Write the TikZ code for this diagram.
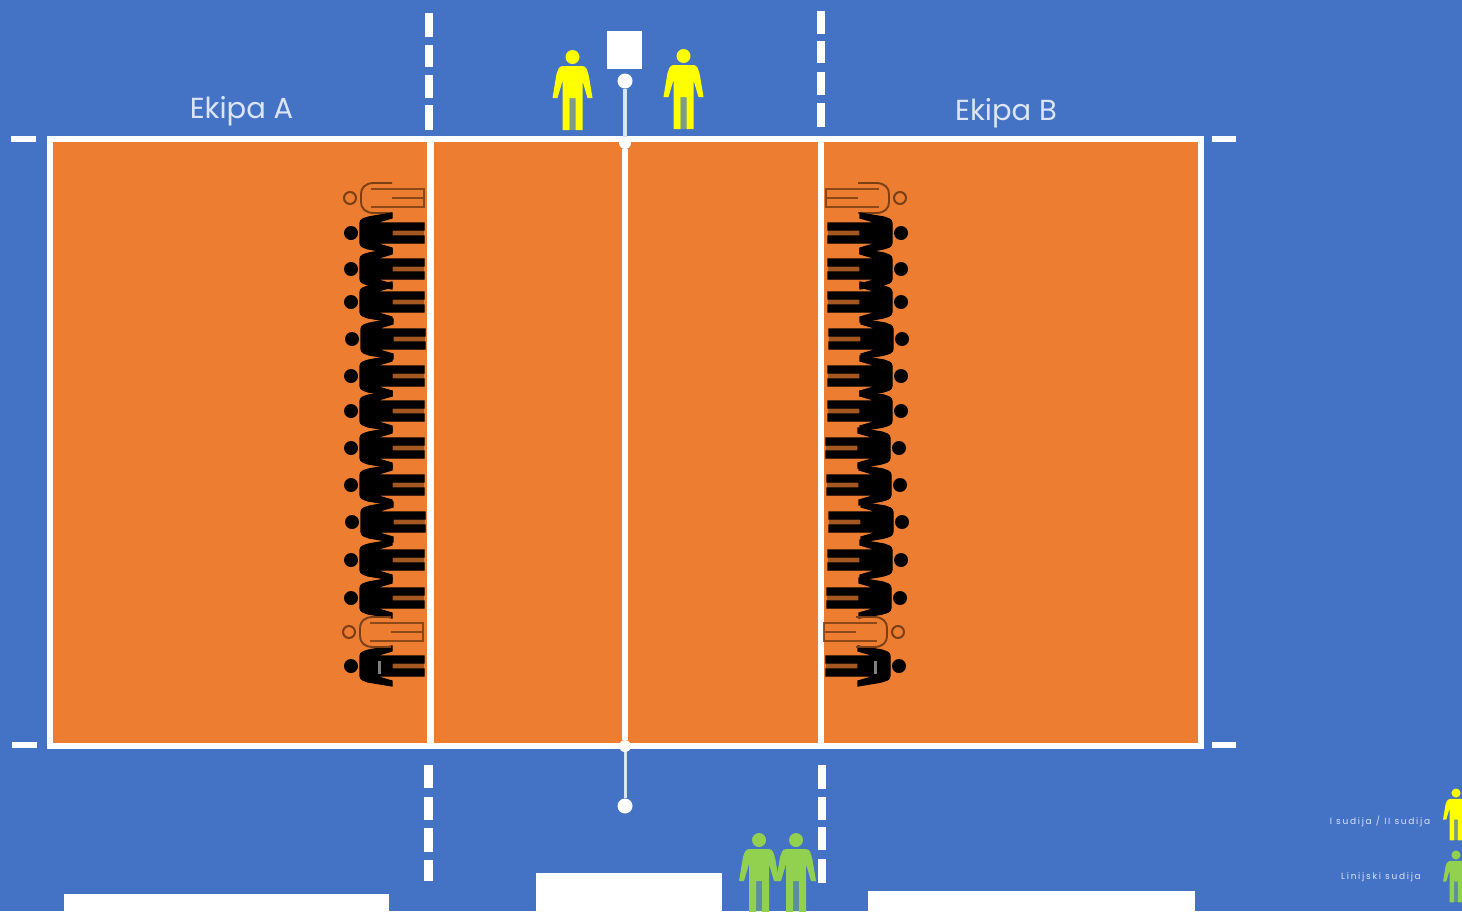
\documentclass[tikz,border=0pt]{standalone}
\usepackage{fontspec}
\setmainfont{Poppins}
\definecolor{bluebg}{HTML}{4472C4}
\definecolor{court}{HTML}{ED7D31}
\definecolor{refy}{HTML}{FFFF00}
\definecolor{refg}{HTML}{92D050}
\definecolor{brownline}{HTML}{7A3F14}
\definecolor{lbl}{HTML}{DCE5F5}
\tikzset{
  figure/.pic={
    \fill[pic actions,draw=none] (0,0) circle (7);
    \fill[pic actions] [rounded corners=3] (-13,9) -- (13,9) -- (16,17) [sharp corners] -- (20,41) -- (15,41) -- (10,24) -- (10,73) -- (3,73) -- (3,41) -- (-3,41) -- (-3,73) -- (-10,73) -- (-10,24) -- (-15,41) -- (-20,41) -- (-16,17) [rounded corners=3] -- cycle;
    \fill[pic actions,draw=none,opacity=.3] (-3,41) rectangle (3,73);
  },
  hollow/.pic={
    \draw[brownline,line width=2] (0,0) circle (6);
    \draw[brownline,line width=1.9] (15,42) -- (15,24) .. controls (15,15) and (10,11) .. (4,11) -- (-4,11) .. controls (-10,11) and (-15,15) .. (-15,24) -- (-15,42);
    \draw[brownline,line width=2.2,opacity=.85] (-9,21) -- (-9,74) -- (9,74) -- (9,21) (0,42) -- (0,74);
  },
  player/.style={fill=black,draw=black,line width=1.2},
  whiteline/.style={draw=white,line width=#1},
  dashpiece/.style={draw=white,line width=8.5},
  tick/.style={draw=white,line width=6},
  netpost/.style={circle,fill=white,inner sep=0pt,minimum size=#1},
  title/.style={text=lbl,font=\fontsize{29}{32}\selectfont,inner sep=0pt},
  legend/.style={text=lbl,font=\fontsize{9}{11}\selectfont\addfontfeature{LetterSpace=19},inner sep=0pt},
  paper/.style={fill=white,draw=none},
}
\begin{document}
\begin{tikzpicture}[x=1pt,y=-1pt]
\useasboundingbox (0,0) rectangle (1462,911);
\clip (0,0) rectangle (1462,911);
\fill[bluebg] (0,0) rectangle (1462,911);
% court
\filldraw[court,draw=white,line width=6] (49.5,138.5) rectangle (1200.5,746);
% named points
\node[netpost=15pt] (topball) at (625,81) {};
\node[netpost=15pt] (botball) at (625,806) {};
\node[netpost=12pt] (topjoin) at (625,143) {};
\node[netpost=12pt] (botjoin) at (625,746) {};
\draw[white!80!bluebg,line width=4] (topball) -- (topjoin);
\draw[white!80!bluebg,line width=3] (botball) -- (botjoin);
\draw[whiteline=6.5] (topjoin) -- (botjoin);
\coordinate (atop) at (430.5,138); \coordinate (abot) at (430.5,746);
\coordinate (btop) at (821,138); \coordinate (bbot) at (821,746);
\draw[whiteline=7.5] (atop) -- (abot);
\draw[whiteline=6] (btop) -- (bbot);
% ticks
\draw[tick] (11,139) -- (36,139);
\draw[tick] (1212,139) -- (1236,139);
\draw[tick] (12,745) -- (37,745);
\draw[tick] (1212,745) -- (1236,745);
% dashes
\foreach \a/\b in {13/37,45/67,75/98,105/130} \draw[dashpiece] (429,\a) -- (429,\b);
\foreach \a/\b in {11/34,41/63,72/95,103/127} \draw[dashpiece] (821,\a) -- (821,\b);
\foreach \a/\b in {765/788,797/820,828/852,860/881} \draw[dashpiece] (428.5,\a) -- (428.5,\b);
\foreach \a/\b in {765/789,797/820,827/850,859/883} \draw[dashpiece] (822,\a) -- (822,\b);
% referee stand
\node[fill=white,minimum width=35pt,minimum height=38pt,inner sep=0pt] (stand) at (624.5,50) {};
% referees
\pic[refy] at (572.5,57) {figure};
\pic[refy] at (683.5,56) {figure};
\pic[refg] at (759,840) {figure};
\pic[refg] at (796,840) {figure};
% team A
\pic[rotate=90] at (350,198) {hollow};
\foreach \x/\y in {351/233,351/269,351/302,352/339,351/376,351/411,351/448,351/485,352/522,351/560,351/598,351/666}
  \pic[player,rotate=90] at (\x,\y) {figure};
\pic[rotate=90] at (349,632) {hollow};
% team B
\pic[rotate=-90] at (900,198) {hollow};
\foreach \x/\y in {901/233,901/269,901/302,902/339,901/376,901/411,899/448,900/485,902/522,901/560,900/598,899/666}
  \pic[player,rotate=-90] at (\x,\y) {figure};
\pic[rotate=-90] at (898,632) {hollow};
\fill[gray] (378,661) rectangle (381,674);
\fill[gray] (874,661) rectangle (877,674);
% titles
\node[title] (ekipaA) at (241.5,111) {Ekipa A};
\node[title] (ekipaB) at (1006,113) {Ekipa B};
% bottom white boxes
\fill[paper] (64,894) rectangle (389,911);
\fill[paper] (536,873) rectangle (722,911);
\fill[paper] (868,891) rectangle (1195,911);
% legend
\node[legend] (l1) at (1380,821) {I sudija / II sudija};
\node[legend] (l2) at (1381,877) {Linijski sudija};
\pic[refy,scale=.65] at (1456,793) {figure};
\pic[refg,scale=.65] at (1456,855) {figure};
\end{tikzpicture}
\end{document}
